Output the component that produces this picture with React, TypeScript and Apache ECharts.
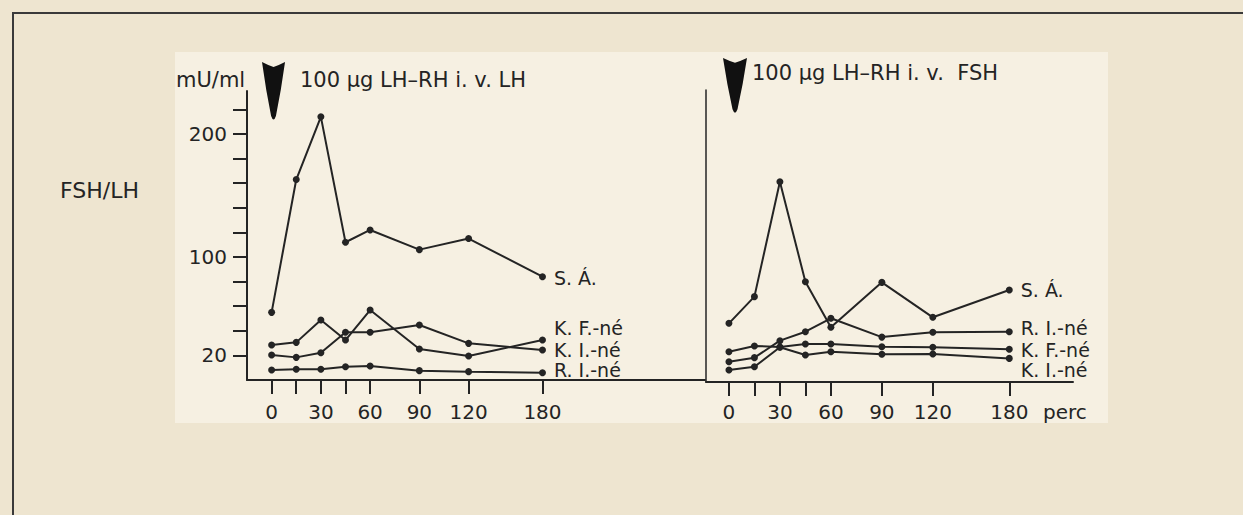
import React, { useEffect, useRef } from "react";
import * as echarts from "echarts";

// ---- data (minutes after LH-RH, values in mU/ml) ----
const minutes = [0, 15, 30, 45, 60, 90, 120, 180];
const tickMinutes = [0, 15, 30, 45, 60, 90, 120, 180];
const labelMinutes = [0, 30, 60, 90, 120, 180];
const yTickValues = [20, 40, 60, 80, 100, 120, 140, 160, 180, 200, 220];
const yLabelValues = [20, 100, 200];

const lhNames = ["S. Á.", "K. F.-né", "K. I.-né", "R. I.-né"];
const lhSA = [55, 163, 214, 112, 122, 106, 115, 84];
const lhKF = [28.5, 30.6, 48.8, 32.5, 56.9, 25.2, 19.5, 32.5];
const lhKI = [20.3, 18.4, 22.2, 38.8, 38.8, 44.7, 29.8, 24.4];
const lhRI = [8.1, 8.7, 8.7, 10.8, 11.4, 7.6, 6.8, 5.9];

const fshNames = ["S. Á.", "R. I.-né", "K. F.-né", "K. I.-né"];
const fshSA = [47.7, 69.4, 162.8, 81.5, 44.5, 81, 52.6, 74.8];
const fshRI = [16.5, 19.8, 33.6, 40.9, 51.8, 36.5, 40.4, 40.9];
const fshKF = [24.6, 29.3, 28.5, 30.9, 30.9, 28.7, 28.2, 26.6];
const fshKI = [9.8, 12.4, 28.2, 22, 24.6, 22.5, 22.8, 19.2];

// broken time axis: 15-min steps up to 120, then 20-min steps
const toPos = (m: number) => (m <= 120 ? m / 15 : 8 + (m - 120) / 20);
const fromPos = (p: number) => (p <= 8 ? p * 15 : 120 + (p - 8) * 20);

const FONT = "DejaVu Sans";
const INK = "#242424";
const ARROW_D =
  "M0 0 Q6 3 12 5 Q18 3 24 0 Q20 28 14.5 54 Q12 61 9.5 54 Q4 28 0 0 Z";

function makeSeries(name: string, values: number[], axis: number, dy: number) {
  return {
    type: "line",
    name,
    xAxisIndex: axis,
    yAxisIndex: axis,
    symbol: "circle",
    symbolSize: 7,
    silent: true,
    lineStyle: { color: INK, width: 2 },
    itemStyle: { color: INK },
    data: values.map((v, i) => {
      const item: any = { value: [toPos(minutes[i]), v] };
      if (i === values.length - 1) {
        item.label = {
          show: true,
          position: "right",
          distance: 8,
          offset: [0, dy],
          formatter: name,
          fontFamily: FONT,
          fontSize: 19,
          lineHeight: 17,
          color: INK,
        };
      }
      return item;
    }),
  };
}

function xAxis(grid: number, min: number, max: number, margin: number) {
  return {
    type: "value",
    gridIndex: grid,
    min,
    max,
    axisLine: { show: true, onZero: false, lineStyle: { color: INK, width: 2 } },
    axisTick: {
      show: true,
      length: 14,
      customValues: tickMinutes.map(toPos),
      lineStyle: { color: INK, width: 2 },
    },
    axisLabel: {
      show: true,
      customValues: labelMinutes.map(toPos),
      formatter: (v: number) => String(Math.round(fromPos(v))),
      margin,
      fontFamily: FONT,
      fontSize: 20,
      color: INK,
    },
    splitLine: { show: false },
  };
}

export default function App() {
  const ref = useRef<HTMLDivElement>(null);
  useEffect(() => {
    if (!ref.current) return;
    echarts.graphic.registerShape("logo", echarts.graphic.extendPath(ARROW_D, {}));
    const chart = echarts.init(ref.current, undefined, { renderer: "svg" });
    const txt = (text: string, x: number, y: number, size = 21) => ({
      type: "text",
      x,
      y,
      silent: true,
      style: { text, fontFamily: FONT, fontSize: size, fill: INK, verticalAlign: "middle" },
    });
    chart.setOption({
      animation: false,
      backgroundColor: "#eee5d0",
      grid: [
        { left: 247, top: 91, width: 458, height: 289, containLabel: false, outerBoundsMode: "none" },
        { left: 706, top: 90, width: 367, height: 292, containLabel: false, outerBoundsMode: "none" },
      ],
      xAxis: [xAxis(0, -1, 17.6, 22), xAxis(1, -0.9, 13.5, 20)],
      yAxis: [
        {
          type: "value",
          gridIndex: 0,
          min: 0,
          max: 235,
          axisLine: { show: true, onZero: false, lineStyle: { color: INK, width: 2 } },
          axisTick: { show: true, length: 14, customValues: yTickValues, lineStyle: { color: INK, width: 2 } },
          axisLabel: {
            show: true,
            customValues: yLabelValues,
            margin: 20,
            fontFamily: FONT,
            fontSize: 20,
            color: INK,
          },
          splitLine: { show: false },
        },
        {
          type: "value",
          gridIndex: 1,
          min: 0,
          max: 237.4,
          axisLine: { show: true, onZero: false, lineStyle: { color: INK, width: 1.5 } },
          axisTick: { show: false },
          axisLabel: { show: false },
          splitLine: { show: false },
        },
      ],
      series: [
        makeSeries(lhNames[0], lhSA, 0, 1),
        makeSeries(lhNames[1], lhKF, 0, -12),
        makeSeries(lhNames[2], lhKI, 0, 0),
        makeSeries(lhNames[3], lhRI, 0, -3),
        makeSeries(fshNames[0], fshSA, 1, 0),
        makeSeries(fshNames[1], fshRI, 1, -4),
        makeSeries(fshNames[2], fshKF, 1, 1),
        makeSeries(fshNames[3], fshKI, 1, 12),
      ],
      graphic: [
        { type: "rect", z: -10, silent: true, shape: { x: 175, y: 52, width: 933, height: 371 }, style: { fill: "#f6f0e2" } },
        { type: "line", silent: true, shape: { x1: 12, y1: 13, x2: 1243, y2: 13 }, style: { stroke: "#3a3a3a", lineWidth: 2 } },
        { type: "line", silent: true, shape: { x1: 13, y1: 13, x2: 13, y2: 515 }, style: { stroke: "#3a3a3a", lineWidth: 2 } },
        { type: "logo", x: 262, y: 62, scaleX: 0.96, scaleY: 1.0, silent: true, style: { fill: "#111" } },
        { type: "logo", x: 723, y: 58, scaleX: 1.0, scaleY: 0.95, silent: true, style: { fill: "#111" } },
        txt("mU/ml", 176, 80),
        txt("100 µg LH–RH i. v. LH", 300, 80),
        txt("100 µg LH–RH i. v.  FSH", 752, 73),
        txt("FSH/LH", 60, 190, 22),
        txt("perc", 1043, 412, 20),
      ],
    });
    return () => chart.dispose();
  }, []);
  return (
    <div
      ref={ref}
      style={{ position: "fixed", left: 0, top: 0, width: 1243, height: 515 }}
    />
  );
}
